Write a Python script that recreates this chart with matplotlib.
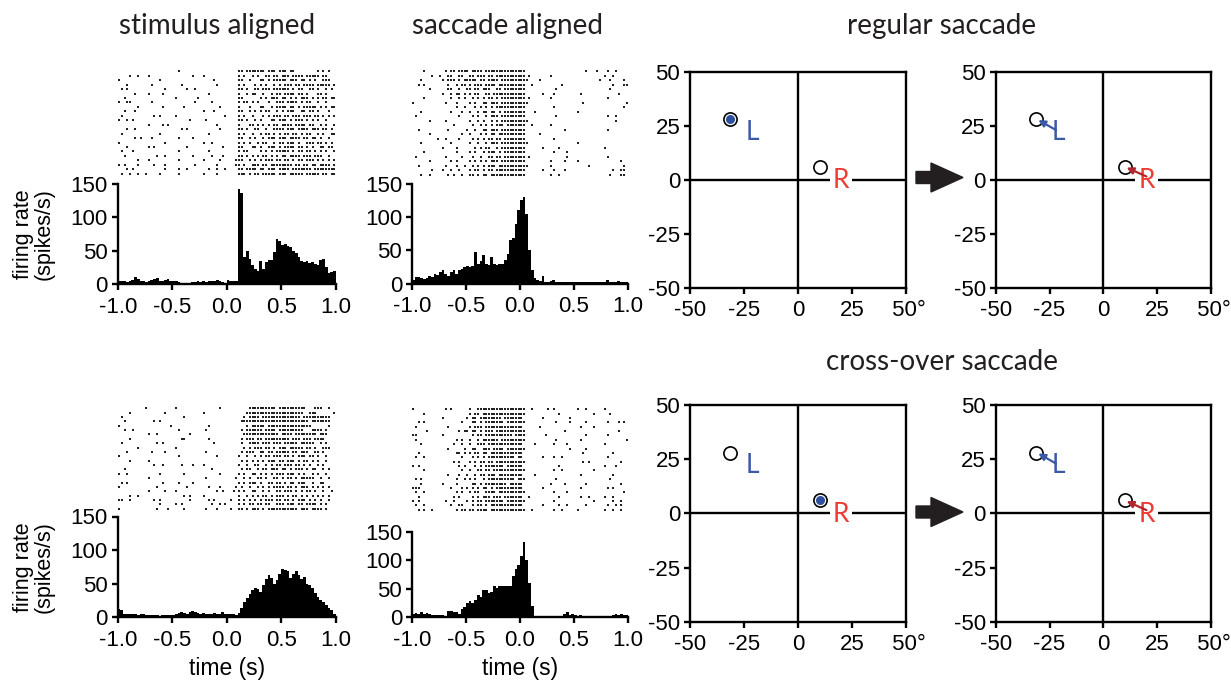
import numpy as np
import matplotlib
matplotlib.use("Agg")
import matplotlib.pyplot as plt
from matplotlib.patches import FancyArrow

plt.rcParams['font.family'] = 'Liberation Sans'
plt.rcParams['axes.unicode_minus'] = False

# ---- data ----------------------------------------------------------------
bin_width = 0.025
bin_edges = np.arange(-1.0, 1.0, bin_width)   # left edges, 80 bins

# firing rate (spikes/s), regular saccade trials
rate_stim_regular = [4, 5, 4, 3, 4, 6, 10, 8, 5, 4,
                     3, 5, 6, 8, 9, 5, 4, 6, 8, 5,
                     5, 4, 3, 2, 2, 2, 2, 3, 3, 4,
                     3, 4, 3, 4, 4, 5, 6, 4, 3, 2,
                     6, 5, 4, 4, 143, 136, 40, 50, 38, 28,
                     22, 20, 34, 22, 33, 36, 36, 48, 68, 65,
                     58, 60, 57, 55, 50, 46, 40, 34, 33, 35,
                     32, 33, 30, 28, 36, 38, 25, 17, 18, 20]
rate_sacc_regular = [5, 10, 10, 9, 7, 8, 12, 10, 15, 13,
                     18, 20, 14, 12, 18, 20, 15, 20, 22, 25,
                     27, 25, 26, 47, 30, 34, 43, 30, 28, 40,
                     30, 28, 30, 30, 35, 45, 65, 68, 90, 110,
                     125, 130, 105, 50, 20, 8, 5, 4, 12, 3,
                     3, 4, 5, 3, 2, 3, 2, 3, 2, 2,
                     3, 2, 2, 3, 2, 2, 2, 3, 2, 2,
                     2, 3, 5, 3, 2, 3, 4, 3, 3, 2]
# cross-over saccade trials
rate_stim_cross = [12, 10, 5, 4, 5, 4, 5, 3, 4, 4,
                   3, 3, 3, 3, 3, 2, 3, 3, 3, 3,
                   3, 4, 6, 8, 6, 5, 7, 9, 8, 6,
                   5, 6, 4, 5, 4, 6, 5, 4, 7, 5,
                   4, 5, 4, 3, 6, 14, 22, 28, 34, 40,
                   44, 42, 38, 48, 56, 63, 58, 50, 55, 64,
                   72, 70, 68, 58, 64, 68, 62, 56, 60, 50,
                   48, 44, 36, 30, 26, 22, 18, 14, 10, 5]
rate_sacc_cross = [5, 7, 6, 8, 5, 7, 6, 3, 4, 3,
                   3, 3, 2, 10, 10, 8, 9, 6, 14, 18,
                   25, 28, 25, 30, 38, 35, 48, 48, 42, 45,
                   55, 52, 55, 55, 55, 55, 55, 72, 85, 92,
                   108, 132, 100, 60, 20, 2, 2, 2, 2, 2,
                   2, 2, 2, 2, 2, 2, 6, 8, 4, 6,
                   3, 2, 4, 2, 2, 2, 2, 2, 2, 2,
                   2, 2, 2, 2, 4, 5, 4, 6, 4, 3]

# spike rasters: one string per trial, '|' = spike in that 25 ms bin
raster_stim_regular = [
    ".......... .......... ..|....... .......... ....||.||| ||||.|||.| ||.||..... ...|.|.|..",
    "....|..|.. .|........ .......|.. .|........ ....|.|..| .|..||.||. |||.||||.| ||||.||...",
    "|......... .....|.... .......... .....|.... ....||..|. ..||.|.||| ||.|||.||. |.|..|||..",
    "...|...... ..|....... ...|...... ......|... ....|.|... |.|.|..|.| .|||.||.|| ||.|||||.|",
    ".|.|...... .......|.. .....|..|. .......... ....||.|.. ||.|||.||| |||.|.||.. ||.|..|.|.",
    "......|... .|....|... .......... ...|...... ....|..|.| |..|..|.|| .||||.||.| ...||.|...",
    "..|....... .......... .|.......| .......... ....||.... ..|.|.|||. ||.|.|.||| .|.|.||.||",
    "|..||..... ..|....... ........|. ....|..... ....|.||.| .|...|..|| |.||||.|.| |..|..|...",
    ".......|.. ......|... ....|..... .......|.. ....|...|. ..||..|.|| ||.||.|.|| |||.|.|.||",
    "..|...|... .......... .......... .|...|.... ....||..|. |.|.||..|. |.|||..||. ||.|...|..",
    ".|........ ...|.|.... .|........ .........| ....|.|..| ...|.|.||| .||.|||.|| |.||.|.|.|",
    "|..|.|.... .......... ......|... ..|....... ....||.|.. |.|...||.| ||.|.|||.| .|.|..|...",
    ".......... .|....|.|. .......... ......|... ....|...|| .|.|.|.||. ||||.||||. ||..|.|..|",
    "...|..|... .......... ...|.|.... .......|.. ....||.|.. ||..|..||| |.|||.|||| .|||.||.|.",
    ".|........ .....|.... .......... ...|...... ....|.|..| ..|.||.|.| .||.||.|.| |..|.|..||",
    "......|.|. ..|....... ..|....|.. .......... ....||..|. |..|.|||.| ||.||||.|| .||.|..|..",
    "|......... .......|.. .......... .|..|..... ....|.|.|. .|.||..|.| |.|||.|..| ||.||.|.|.",
    "...|...... .|.|...... .....|.... ........|. ....||...| |.|..|||.| .||||.||.| .|..||.||.",
    ".|...|.... .......... ..|....... ...|...... ....|.||.. ..|.|.|.|| |||.|.||.| |.|.|.|..|",
    "..|....... ....|..|.. .......|.. ....|...|. ....||.|.| .|.||.|.|. ||.||||.|| |.|||..|..",
    ".......|.. .|........ ..|....... .|.....|.. ...|||..|. |.|.|||.|| .||.|.||.| ||.|.|.|.|",
    "|.|....|.. ...|...|.. ........|. ......|... ...||.|..| ||.||.|||| ||||.||.|| .||.||||.|",
    "...|.|.... .......|.. ..|..|.... ...|..|..| ....||.||| |.||.|||.| |||.|||||| |.||||||||",
    ".|..|..|.. |....|.... ..|....... .|....|... ....|||.|. ||.|||||.| ||.|||||.| ||||.||.||",
]
raster_sacc_regular = [
    "....|..... ..|.||.||| |.||||.||| |||||||||| ||........ .......... ....|...|. ..|..|....",
    ".......|.. |..||..||. .||.|||.|| .||||||||| ||.|...... .|........ .......... .|..|.....",
    "...|...... .|.|||.|.| ||||.||.|| ||.||||||| |||....|.. .......... .........| ...|....|.",
    "..|.|..... ...|..|.|| .|.|||.||| |.|||||||| ||..|..... .....|.... .......... ....|...||",
    "......|... ...||..|.. ||.||.|||. .||.|||||| ||........ ...|...... .......... ...|......",
    ".......... .|..|.||.| .|.||..||. |||||||||| ||......|. ..|....... ..|....... ......|...",
    "....|..... ....|..|.| ..|.|.|.|| .|.||||||| ||.|...... .|........ .......... ..|.......",
    "|......... ..|...|... .|.|..||.| ||.||||||| |||....... .......... ...|...... .........|",
    ".......... ......|..| ...|.|.|.| .||||||||| ||........ ..|....... .......... ........|.",
    "...|...... ....|...|. .|..|.||.| |.|.|||||| ||...|.... .......... .|........ ..........",
    ".|........ .......|.. ..|.|..|.| ||.||||||| ||........ ...|...... .......... ..|..|....",
    "......|... ..|....... .|..|.|..| .|.||||||| |||....... .......... .......... .....|....",
    ".......... .....|.... ..|..|.|.| .|||.||||| ||..|..... .|........ .......... ..........",
    "..|....... ...|...... |..|..||.| ||.||||||| ||........ ......|... .......... ..|.......",
    "......|... ........|. .|...|.|.| |.|||||||| ||.....|.. .......... .......... ..........",
    ".........| ..|....|.. ..|.|.|.|| .||.|||||| ||........ ..|....... .......... ..........",
    "...|...... ....|..... .|..|..|.| ||.||||||| |||....... .......... .|........ ..........",
    ".......... .|....|... ...|.|.||. .|.||||||| ||......|. ....|..... .......... .|........",
    "....|..... ......|... .|.|..|.|| |.|.|||||| ||........ ..|....|.. .......... ..........",
    ".|........ ..|.....|. ..|..|..|| .||.|||||| ||.|...... .......|.. .......... ..|.......",
    "......|... ....|.|... .|.|.|.|.| ||.||||||| ||........ .|....|... .|........ .......|..",
    "..|....... ..|...|..| ..|.|.|.|| |.|||||||| |||....... .|........ .....|.... ........|.",
    ".......|.. .|..|..|.. .|.||.|.|| .||||||||| ||......|. ..|...|... .......... ....|..||.",
    "...|..|... ...|.|..|. .||.|.||.| |||||||||| ||........ .|..|..... .......... ...|...||.",
]
raster_stim_cross = [
    ".......... |......... .|........ .......|.. ........|| ||||||||.| |||||||||. ..|||..|..",
    "....|..... .......|.. .......... .|........ .......||| |||||||||| ||||||||.. |||......|",
    ".|........ .......... ....|..... .......... ......|.|| ||.||||||| |||||||.|| ||||||||..",
    "..|....... ...|.|.... .......... .......... .....||||| |||||||||| |||||||||| .|||||||..",
    "|......... .........| .......... ...|...... .......|.| ||||.||||| |||||||||| |......|..",
    "..|..|.... .......... ..|....... ..|....... .....|.||| |||.||||.| ||||||||.. .||||.|...",
    ".......... .|..|..... ......|... .......... ......|||| |||||||||. ||||.||||| |||.|||...",
    "....|..... .......... ...||..... ...|...... .....|.||| .||.|||||| |||.|||.|| |.||||....",
    ".|........ ....|.|... .......... .....|.... .....|..|| ||.|||.||| .|||||.||| ||..|.|...",
    ".......|.. .......... .|........ .......... ......|.|. |||.||.|.| ||.|||||.| |.|..|||..",
    "...|...... ..|....|.. .......... ..|....... .....|.||| ..||.||.|| |||.||.||| ..||.|....",
    "|......... .......... ..|....... ......|... ....|..|.. |.|.||.||| .||.|.|||. ||.|..|...",
    "....|..... .|........ .......... .......... .....|.|.| .|.|.|||.| |.|||.|.|| .|.|..|...",
    ".......... ...|..|... ...|...|.. .|........ ....|..|.. ||..|.|.|| .|||.||.|. |..|.|....",
    "..|....... .......... .......... ....|..... .....|.||. .|.||.|||. ||.|.|||.| .||..|.|..",
    "|..|...... .....|.... ....|..... .......|.. ....|.|..| |.|.|.|.|| |.|||.|.|. .|.|..|...",
    ".......... .|........ .......... ..|....... ...|..|.|. .||.|..||. |.||.|.||| ||..|..|..",
    ".|.|...... ......|... ..|....|.. .......... ....|.|.|| |.|..||.|| .|.||.|||. .|..||....",
    "|......... ....|..... .....|.... ...|...|.. ...|.|..|. .|.|.|.||| |.||.|.||| .|.|.|.|..",
    ".......... .|.....|.. .|........ ......|.|. ..|.|.|..| |..|.|..|| .|||.|.|.| |.|..|..|.",
    "....|..|.. .......... ....|.|... .|........ ....|..|.| .|.||.|.|| |.|.||.|.| .|.|.|.|..",
    "||..|..... ...|.|.... ......|... ...|.|.... .|..|.|.|. |.|.|||.|| .||.|.|||. |.|.|..|..",
    ".......... .....|.... .|.|...... ....|..|.| ....|.|.|| .||.||..|| |.|||.||.| |||.|.|...",
    "|......... ....|...|. ....|..... ..|...|... .|..||.|.| ||.|.||||| ||||||.||| .||||.|...",
]
raster_sacc_cross = [
    "|......... ..|.|..... .|..|||||| |||||||||| ||..|..... |.|....... .|..|..... .|........",
    "....|..... .......... .|.||.|||| |||||||||| ||........ ....|..... .......|.. ...|......",
    ".......... .|........ |.||.||||| |||.|||||| |.......|. ........|. .......... ..........",
    "..|.|..... ........|. ..||.|.||| ||||.||||| ||........ ...|....|. ....|..... ..|...|.|.",
    ".|........ ...|...... .|.|||.||| |||||||||| |......|.. .......... ..|....|.. ..........",
    ".....|.... .......|.| |.||.|.||| .||||||||| ||........ ......|... .......... ......|...",
    "||........ .|........ ..|.||.||| |||||||.|| ||.......| .......... ....|..... ..|.......",
    ".|........ ......|.|. .|..|.|||| ||.||||||| ||........ ...|...... ..|....... .........|",
    "...|...... .....|..|. .|..|||.|| |||||||||| |....|.... ..|....|.. .......... .|........",
    ".......... ...|.....| ..||..|||. ||||.||||| ||........ ........|. ....|..... ..........",
    "..|....... ......||.| .|.||.||.| |||||||||| |......... .......... ...|...... ....|.....",
    ".|..|..... ........|. ..|.|.|.|| ||||||||.| |.......|. ..|..|.... .......... ..|.......",
    ".......... .....|.|.. .|.|.||.|| .||||||||| ||........ .......... ...|.|.... .......|..",
    "|.|....... .......|.| ...|.|.||| ||||.||||| |......... ....|..... .......... .|...|....",
    "....|..... ........|. .|..||.||. |||||||||| ||........ ..|..|.... .......|.. ..........",
    ".......... ...|...|.. |..|.||.|| |.|||||||| |....|.... .......... ..|....... ....|.....",
    ".|.|...... ......|..| .|.|..|.|| ||||||||.| ||........ ...|...... .......... ...|......",
    "...|...... .|....|... ..||.|.||| |||||.|||| |......... .|....|... ....|..... .......|..",
    "|||....... ....|...|. |.|.|.||.| .||||||||| |.......|. .......... ..|....... ..|.|.....",
    ".|..|..... ......|.|. .|.||..||| |.|||||||| ||........ ..|....|.. .......... ........|.",
    "..|....... .....|.|.. ..|.|.|||. |||.|||||| |..|...... ....|..... ..|..|.... .|..|.....",
    "|.|....... ..|..|.... |.|.||.||| ||||.||||| ||........ ..|....... .......|.. ....|..|..",
    ".|..|..... ....|..||. ..|.||.|.| |||||||||| |.......|. ....|..|.. ....|..... ..|..|.|..",
    "..|.|..|.. ......|.|| .||.||||.| |||||||||| ||..|..... ..|..|.... .|........ .|..|..|..",
]

# target positions (deg) and saccade end points
target_L = (-31.5, 28)
target_R = (10, 6)
label_L = (-21, 22)
label_R = (20, -0.5)
sacc_L_start, sacc_L_end = (-22, 23), (-30.2, 27.6)
sacc_R_start, sacc_R_end = (20, 1.5), (10.8, 5.6)

time_ticks = [-1.0, -0.5, 0.0, 0.5, 1.0]
time_labels = ['-1.0', '-0.5', '0.0', '0.5', '1.0']
rate_ticks = [0, 50, 100, 150]
deg_ticks = [-50, -25, 0, 25, 50]
deg_xlabels = ['-50', '-25', '0', '25', ' 50\u00b0']
deg_ylabels = ['-50', '-25', '0', '25', '50']

BLUE = '#3a5aa8'
BLUE_DOT = '#2d4f9e'
RED = '#ee3b33'
DARK_RED = '#b3262d'
INK = '#231f20'
LW = 1.7
TICK_FS = 16

# ---- layout helpers --------------------------------------------------------
W, H = 1231, 682
fig = plt.figure(figsize=(W / 100, H / 100), dpi=100)


def box(x0, y0, x1, y1):
    return [x0 / W, 1 - y1 / H, (x1 - x0) / W, (y1 - y0) / H]


def style_ticks(ax):
    ax.tick_params(direction='out', length=4.5, width=LW, labelsize=TICK_FS,
                   colors='black')
    ax.tick_params(axis='x', pad=4.5)
    ax.tick_params(axis='y', pad=2.5)


def draw_hist(rect, rates):
    ax = fig.add_axes(box(*rect))
    ax.bar(bin_edges, rates, width=bin_width, align='edge', color='black',
           linewidth=0)
    ax.set_xlim(-1, 1)
    ax.set_ylim(0, 150)
    for s in ['top', 'right']:
        ax.spines[s].set_visible(False)
    for s in ['left', 'bottom']:
        ax.spines[s].set_linewidth(LW)
    ax.set_xticks(time_ticks)
    ax.set_xticklabels(time_labels)
    ax.set_yticks(rate_ticks)
    style_ticks(ax)
    return ax


def draw_raster(rect, rows):
    ax = fig.add_axes(box(*rect))
    n = len(rows)
    xs, ys = [], []
    for k, row in enumerate(rows):
        cells = ''.join(g.ljust(10, '.')[:10] for g in row.split())
        for c, ch in enumerate(cells):
            if ch == '|':
                xs.append(-1 + bin_width * c + bin_width / 2)
                ys.append(n - k - 0.5)
    ax.scatter(xs, ys, marker='s', s=2.2, color='#222222', linewidths=0)
    ax.set_xlim(-1, 1)
    ax.set_ylim(0, n)
    ax.axis('off')


def draw_targets(rect, chosen=None, arrows=False):
    ax = fig.add_axes(box(*rect))
    ax.set_xlim(-50, 50)
    ax.set_ylim(-50, 50)
    for s in ax.spines.values():
        s.set_linewidth(LW)
    ax.axhline(0, color='black', lw=LW, zorder=1)
    ax.axvline(0, color='black', lw=LW, zorder=1)
    ax.set_xticks(deg_ticks)
    ax.set_xticklabels(deg_xlabels)
    ax.set_yticks(deg_ticks)
    ax.set_yticklabels(deg_ylabels)
    style_ticks(ax)
    for t in (target_L, target_R):
        ax.plot(*t, 'o', ms=9.5, mfc='white', mec='black', mew=1.2, zorder=3)
    if chosen is not None:
        ax.plot(*chosen, 'o', ms=5.5, color=BLUE_DOT, zorder=4)
    ax.text(*label_L, 'L', color=BLUE, fontsize=19, family='Lato',
            ha='center', va='center', zorder=2)
    ax.text(*label_R, 'R', color=RED, fontsize=19, family='Lato',
            ha='center', va='center', zorder=2,
            bbox=dict(facecolor='white', edgecolor='none', pad=2))
    if arrows:
        ax.annotate('', xy=sacc_L_end, xytext=sacc_L_start, zorder=5,
                    arrowprops=dict(arrowstyle='-|>', color=BLUE, lw=1.6,
                                    mutation_scale=10, shrinkA=0, shrinkB=0))
        ax.annotate('', xy=sacc_R_end, xytext=sacc_R_start, zorder=5,
                    arrowprops=dict(arrowstyle='-|>', color=DARK_RED, lw=1.6,
                                    mutation_scale=10, shrinkA=0, shrinkB=0))
    return ax


# ---- histograms and rasters -----------------------------------------------
draw_raster((117.7, 69, 335.7, 176), raster_stim_regular)
draw_raster((412, 69, 628, 177), raster_sacc_regular)
draw_raster((117.7, 406, 335.7, 511), raster_stim_cross)
draw_raster((412, 407, 628, 512), raster_sacc_cross)

draw_hist((117.7, 184, 335.7, 284), rate_stim_regular)
draw_hist((412, 183.5, 628, 283.5), rate_sacc_regular)
draw_hist((117.7, 516.5, 335.7, 617), rate_stim_cross)
draw_hist((412, 532, 628, 617), rate_sacc_cross)

# ---- target panels ----------------------------------------------------------
draw_targets((690, 71.7, 906, 287.7), chosen=target_L)
draw_targets((995.7, 71.7, 1211, 287.7), arrows=True)
draw_targets((690, 405, 906, 621.7), chosen=target_R)
draw_targets((995.7, 405, 1211, 621.7), arrows=True)

# big black arrows between panels
for yc in (177.5, 512):
    fig.add_artist(FancyArrow(916 / W, 1 - yc / H, 47 / W, 0,
                              width=12 / H, head_width=29 / H,
                              head_length=32 / W, length_includes_head=True,
                              color=INK, transform=fig.transFigure))

# ---- texts ----------------------------------------------------------------
title_kw = dict(fontsize=20, family='Lato', color=INK, ha='center',
                va='center')
fig.text(217 / W, 1 - 26 / H, 'stimulus aligned', **title_kw)
fig.text(507 / W, 1 - 26 / H, 'saccade aligned', **title_kw)
fig.text(942 / W, 1 - 26 / H, 'regular saccade', **title_kw)
fig.text(942 / W, 1 - 362 / H, 'cross-over saccade', **title_kw)

for yc in (234, 567):
    fig.text(34 / W, 1 - yc / H, 'firing rate\n(spikes/s)', rotation=90,
             fontsize=15.5, ha='center', va='center', multialignment='center',
             linespacing=1.0)
for xc in (226.7, 520):
    fig.text(xc / W, 1 - 668 / H, 'time (s)', fontsize=16.5, ha='center',
             va='center')

fig.savefig('out.png', dpi=100)
